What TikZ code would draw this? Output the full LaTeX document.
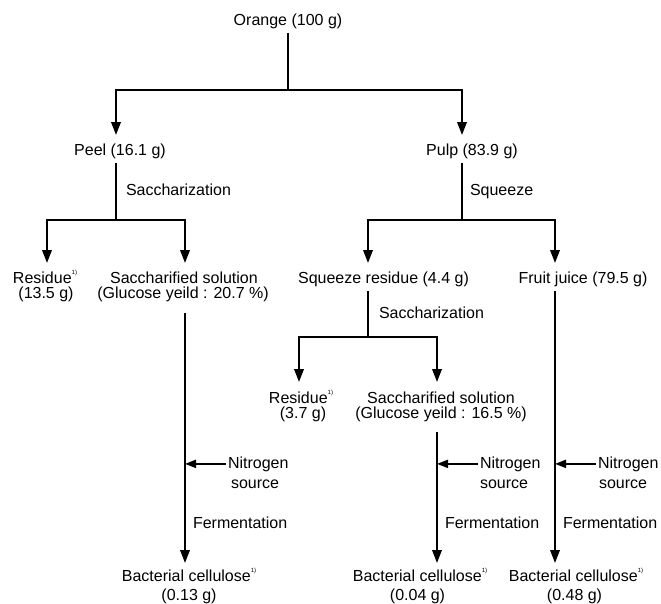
\documentclass[tikz,border=0pt]{standalone}
\usepackage{fontspec}
\setmainfont{Liberation Sans}
\usetikzlibrary{arrows.meta}
\newcommand\fnone{\raisebox{0.55em}{\fontsize{6}{6}\selectfont 1)}}
\begin{document}
\begin{tikzpicture}[x=1pt,y=-1pt,
  txt/.style={font=\fontsize{16}{18}\selectfont, inner xsep=2pt, inner ysep=4.5pt, outer sep=0pt, anchor=base},
  lbl/.style={txt, anchor=base west},
  conn/.style={line width=2pt},
  arr/.style={conn, -{Triangle[length=13pt,width=9.5pt]}},
  arrn/.style={conn, -{Triangle[length=11pt,width=8pt]}}]
\fill[white] (0,0) rectangle (661,603);
\useasboundingbox (0,0) rectangle (661,603);

% text nodes
\node[txt] (orange) at (288,25) {Orange (100 g)};
\node[txt] (peel) at (120,155) {Peel (16.1 g)};
\node[txt] (pulp) at (472,155) {Pulp (83.9 g)};
\node[lbl] (sacchA) at (124,195) {Saccharization};
\node[lbl] (squeeze) at (468,195) {Squeeze};
\node[txt] (resA) at (45,283) {Residue\fnone};
\node[txt] (resAw) at (46,298) {(13.5 g)};
\node[txt] (solA) at (184,283) {Saccharified solution};
\node[txt] (solAy) at (183,298) {(Glucose yeild : 20.7 \%)};
\node[txt] (sqres) at (383.5,283) {Squeeze residue (4.4 g)};
\node[txt] (juice) at (583,283) {Fruit juice (79.5 g)};
\node[lbl] (sacchB) at (377,318) {Saccharization};
\node[txt] (resB) at (301,403) {Residue\fnone};
\node[txt] (resBw) at (303,418) {(3.7 g)};
\node[txt] (solB) at (441,403) {Saccharified solution};
\node[txt] (solBy) at (441,418) {(Glucose yeild : 16.5 \%)};
\node[lbl] (nitA) at (226,468) {Nitrogen};
\node[lbl] (srcA) at (229,488) {source};
\node[lbl] (nitB) at (478,468) {Nitrogen};
\node[lbl] (srcB) at (478,488) {source};
\node[lbl] (nitC) at (596,468) {Nitrogen};
\node[lbl] (srcC) at (597,488) {source};
\node[lbl] (ferA) at (191,528) {Fermentation};
\node[lbl] (ferB) at (443,528) {Fermentation};
\node[lbl] (ferC) at (561,528) {Fermentation};
\node[txt] (bcA) at (189,581) {Bacterial cellulose\fnone};
\node[txt] (bcAw) at (189,600) {(0.13 g)};
\node[txt] (bcB) at (420,581) {Bacterial cellulose\fnone};
\node[txt] (bcBw) at (417.5,600) {(0.04 g)};
\node[txt] (bcC) at (576,581) {Bacterial cellulose\fnone};
\node[txt] (bcCw) at (574.5,600) {(0.48 g)};

% junctions and arrow tips
\coordinate (j0) at (288,90);
\coordinate (tPeel) at (116,135);
\coordinate (tPulp) at (462,135);
\coordinate (j1) at (116,220);
\coordinate (tResA) at (47,263);
\coordinate (tSolA) at (185,263);
\coordinate (j2) at (462,220);
\coordinate (tSqr) at (368,263);
\coordinate (tJuice) at (555,263);
\coordinate (j3) at (368,337);
\coordinate (tResB) at (299,382);
\coordinate (tSolB) at (437,382);
\coordinate (tBcA) at (185,563);
\coordinate (tBcB) at (437,563);
\coordinate (tBcC) at (555,563);

% connectors
\draw[conn] (orange.south -| j0) -- (j0);
\draw[arr] (j0) -| (tPeel);
\draw[arr] (j0) -| (tPulp);
\draw[conn] (peel.south -| j1) -- (j1);
\draw[arr] (j1) -| (tResA);
\draw[arr] (j1) -| (tSolA);
\draw[conn] (pulp.south -| j2) -- (j2);
\draw[arr] (j2) -| (tSqr);
\draw[arr] (j2) -| (tJuice);
\draw[conn] (sqres.south -| j3) -- (j3);
\draw[arr] (j3) -| (tResB);
\draw[arr] (j3) -| (tSolB);
\draw[arr, shorten <=7pt] (solAy.south -| tBcA) -- (tBcA);
\draw[arr, shorten <=6pt] (solBy.south -| tBcB) -- (tBcB);
\draw[arr] (juice.south -| tBcC) -- (tBcC);
\draw[arrn] (nitA.west) -- (nitA.west -| tBcA);
\draw[arrn] (nitB.west) -- (nitB.west -| tBcB);
\draw[arrn] (nitC.west) -- (nitC.west -| tBcC);
\end{tikzpicture}
\end{document}
